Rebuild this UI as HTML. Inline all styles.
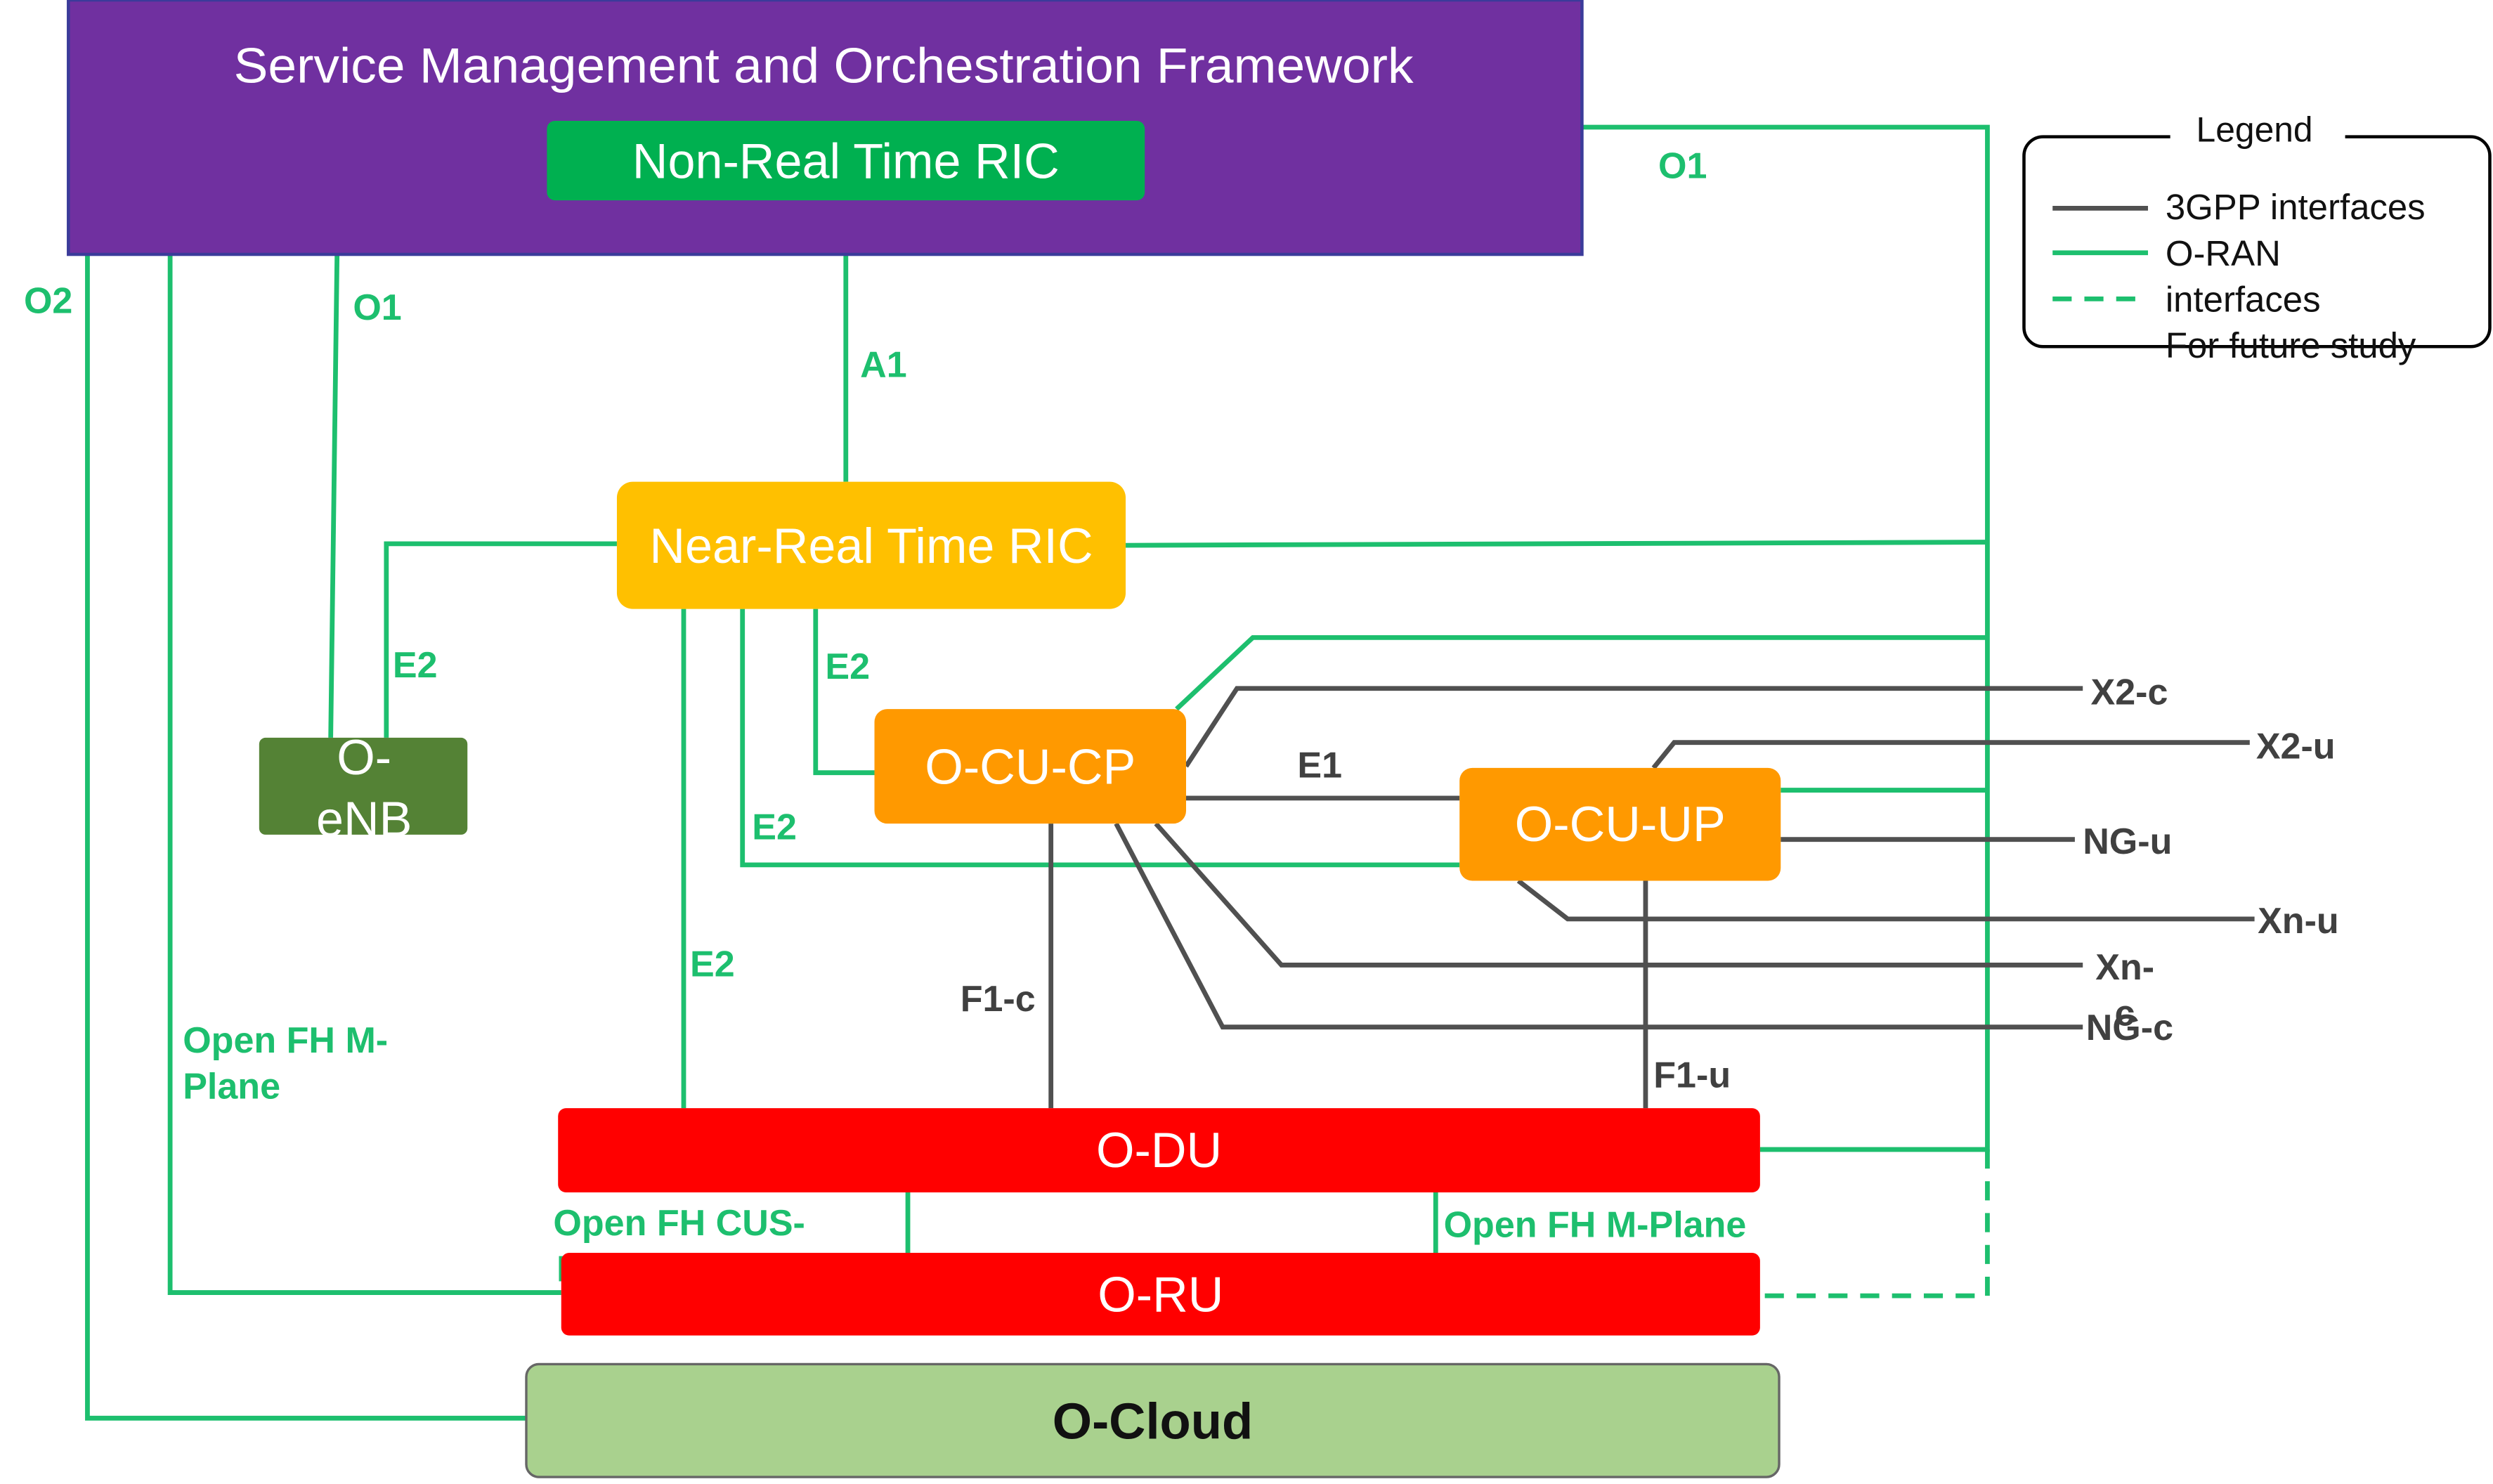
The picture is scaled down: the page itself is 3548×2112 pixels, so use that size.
<!DOCTYPE html>
<html><head><meta charset="utf-8"><style>
html,body{margin:0;padding:0;background:#fff;}
svg{display:block;}
text{font-family:"Liberation Sans",sans-serif;}
</style></head><body>
<svg width="3548" height="2112" viewBox="0 0 1568 933.4" preserveAspectRatio="none" xmlns="http://www.w3.org/2000/svg">
<rect x="0" y="0" width="1568" height="934" fill="#fff"/>
<g stroke="#1dbf6e" stroke-width="3" fill="none">
<polyline points="995,80 1250,80 1250,723 1107,723"/>
<line x1="708" y1="343" x2="1250" y2="341"/>
<polyline points="740,446 788,401 1250,401"/>
<line x1="1120" y1="497" x2="1250" y2="497"/>
<polyline points="55,160 55,892 331,892"/>
<polyline points="107,160 107,813 353,813"/>
<line x1="212" y1="160" x2="208" y2="464"/>
<line x1="532" y1="126" x2="532" y2="303"/>
<polyline points="388,342 243,342 243,464"/>
<polyline points="513,383 513,486 550,486"/>
<polyline points="467,383 467,544 918,544"/>
<line x1="430" y1="383" x2="430" y2="697"/>
<line x1="571" y1="750" x2="571" y2="788"/>
<line x1="903" y1="750" x2="903" y2="788"/>
<polyline points="1250,723 1250,815 1107,815" stroke-dasharray="12,8"/>
</g>
<g stroke="#505050" stroke-width="3" fill="none">
<polyline points="746,482 778,433 1310,433"/>
<polyline points="1040,483 1053,467 1415,467"/>
<line x1="746" y1="502" x2="918" y2="502"/>
<line x1="1120" y1="528" x2="1305" y2="528"/>
<polyline points="955,554 986,578 1418,578"/>
<polyline points="727,518 806,607 1310,607"/>
<polyline points="702,518 769,646 1310,646"/>
<line x1="661" y1="518" x2="661" y2="697"/>
<line x1="1035" y1="554" x2="1035" y2="697"/>
</g>
<g fill="#1dbf6e" font-size="23" font-weight="bold">
<text x="350" y="806">P</text>
</g>
<rect x="43" y="0" width="952" height="160" fill="#7030a0" stroke="#3b3b9a" stroke-width="2"/>
<text x="518" y="52" fill="#fff" font-size="31" text-anchor="middle" textLength="742" lengthAdjust="spacingAndGlyphs">Service Management and Orchestration Framework</text>
<rect x="344" y="76" width="376" height="50" rx="5" fill="#00b050"/>
<text x="532" y="112" fill="#fff" font-size="31" text-anchor="middle">Non-Real Time RIC</text>
<rect x="388" y="303" width="320" height="80" rx="10" fill="#ffc000"/>
<text x="548" y="354" fill="#fff" font-size="31" text-anchor="middle">Near-Real Time RIC</text>
<rect x="163" y="464" width="131" height="61" rx="4" fill="#548235"/>
<text x="229" y="487" fill="#fff" font-size="31" text-anchor="middle">O-</text>
<text x="229" y="526" fill="#fff" font-size="31" text-anchor="middle">eNB</text>
<rect x="550" y="446" width="196" height="72" rx="8" fill="#ff9900"/>
<text x="648" y="493" fill="#fff" font-size="31" text-anchor="middle">O-CU-CP</text>
<rect x="918" y="483" width="202" height="71" rx="8" fill="#ff9900"/>
<text x="1019" y="529" fill="#fff" font-size="31" text-anchor="middle">O-CU-UP</text>
<rect x="351" y="697" width="756" height="53" rx="5" fill="#ff0000"/>
<text x="729" y="734" fill="#fff" font-size="31" text-anchor="middle">O-DU</text>
<rect x="353" y="788" width="754" height="52" rx="5" fill="#ff0000"/>
<text x="730" y="825" fill="#fff" font-size="31" text-anchor="middle">O-RU</text>
<rect x="331" y="858" width="788" height="71" rx="8" fill="#a9d18e" stroke="#666" stroke-width="1.5"/>
<text x="725" y="905" fill="#111" font-size="32" font-weight="bold" text-anchor="middle">O-Cloud</text>
<g fill="#1dbf6e" font-size="23" font-weight="bold">
<text x="1043" y="112">O1</text>
<text x="15" y="197">O2</text>
<text x="222" y="201">O1</text>
<text x="541" y="237">A1</text>
<text x="247" y="426">E2</text>
<text x="519" y="427">E2</text>
<text x="473" y="528">E2</text>
<text x="434" y="614">E2</text>
<text x="115" y="662">Open FH M-</text>
<text x="115" y="691">Plane</text>
<text x="348" y="777">Open FH CUS-</text>
<text x="908" y="778">Open FH M-Plane</text>
</g>
<g fill="#404040" font-size="23" font-weight="bold">
<text x="1315" y="443">X2-c</text>
<text x="1419" y="477">X2-u</text>
<text x="816" y="489">E1</text>
<text x="1310" y="537">NG-u</text>
<text x="1420" y="587">Xn-u</text>
<text x="1318" y="616">Xn-</text>
<text x="1330" y="645">c</text>
<text x="1312" y="654">NG-c</text>
<text x="604" y="636">F1-c</text>
<text x="1040" y="684">F1-u</text>
</g>
<rect x="1273" y="86" width="293" height="132" rx="12" fill="none" stroke="#000" stroke-width="2"/>
<rect x="1365" y="70" width="110" height="30" fill="#fff"/>
<text x="1418" y="89" font-size="22" text-anchor="middle" fill="#111">Legend</text>
<line x1="1291" y1="131" x2="1351" y2="131" stroke="#505050" stroke-width="3"/>
<line x1="1291" y1="159" x2="1351" y2="159" stroke="#1dbf6e" stroke-width="3"/>
<line x1="1291" y1="188" x2="1351" y2="188" stroke="#1dbf6e" stroke-width="3" stroke-dasharray="12,8"/>
<g font-size="22.5" fill="#111">
<text x="1362" y="138">3GPP interfaces</text>
<text x="1362" y="167">O-RAN</text>
<text x="1362" y="196">interfaces</text>
<text x="1362" y="225">For future study</text>
</g>
</svg>
</body></html>
